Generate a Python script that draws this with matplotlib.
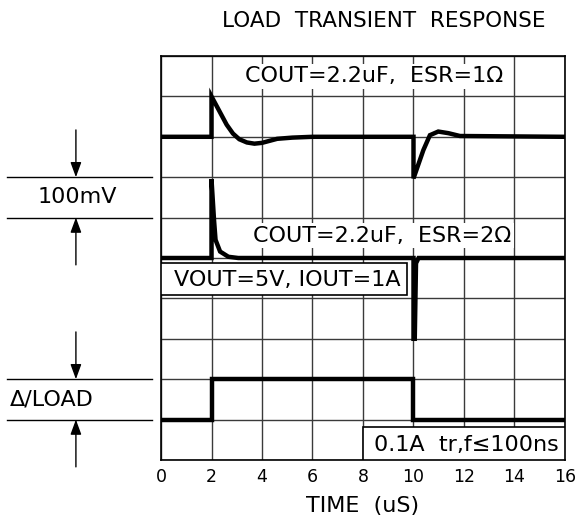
import numpy as np
import matplotlib
matplotlib.use('Agg')
import matplotlib.pyplot as plt
from matplotlib.patches import Rectangle

### data (time in uS, y in grid divisions)
esr1_t = [0, 2, 2, 2.3, 2.6, 2.85, 3.1, 3.4, 3.7, 4.0, 4.3, 4.6, 5.2, 6.0,
          10, 10, 10.39, 10.65, 10.98, 11.38, 11.84, 16]
esr1_v = [8, 8, 9, 8.65, 8.3, 8.08, 7.94, 7.86, 7.83, 7.85, 7.9, 7.95, 7.98, 8.0,
          8, 6.97, 7.67, 8.04, 8.13, 8.09, 8.02, 8]

esr2_t = [0, 2, 2, 2.10, 2.16, 2.34, 2.67, 3.06, 10, 10, 10.05, 10.1, 10.2, 16]
esr2_v = [5, 5, 6.95, 5.94, 5.45, 5.16, 5.03, 5.0, 5, 3.0, 3.0, 4.87, 5.0, 5]

load_t = [0, 2, 2, 10, 10, 16]
load_v = [1, 1, 2, 2, 1, 1]

xticks = [0, 2, 4, 6, 8, 10, 12, 14, 16]

plt.rcParams['font.family'] = ['DejaVu Sans', 'Liberation Sans']
fs = 16

### figure and axes
fig = plt.figure(figsize=(5.8, 5.25), dpi=100)
ax = fig.add_axes([161/580, 65/525, 404/580, 404/525])
ax.set_xlim(0, 16)
ax.set_ylim(0, 10)
ax.set_xticks(xticks)
ax.set_yticks(range(0, 11))
ax.set_yticklabels([])
ax.set_xticklabels([str(t) for t in xticks])
ax.tick_params(length=0, labelsize=12.5, pad=6)
ax.set_axisbelow(True)
ax.grid(True, color='#3a3a3a', lw=1.0)
for s in ax.spines.values():
    s.set_linewidth(1.2)
ax.set_xlabel('TIME  (uS)', fontsize=fs, labelpad=7)

### traces
for t, v in [(esr1_t, esr1_v), (esr2_t, esr2_v), (load_t, load_v)]:
    ax.plot(t, v, color='black', lw=3.2, solid_joinstyle='miter', zorder=4)

### labels inside the plot
wbox = dict(facecolor='white', edgecolor='none', pad=2)
ax.text(8.45, 9.5, 'COUT=2.2uF,  ESR=1\u03a9', fontsize=fs, ha='center', va='center',
        bbox=wbox, zorder=3)
ax.text(8.75, 5.55, 'COUT=2.2uF,  ESR=2\u03a9', fontsize=fs, ha='center', va='center',
        bbox=wbox, zorder=3)

# boxed notes
ax.add_patch(Rectangle((0, 4.08), 9.75, 0.8, facecolor='white', edgecolor='black',
                       lw=1.2, zorder=4.5))
ax.text(0.5, 4.46, 'VOUT=5V, IOUT=1A', fontsize=fs, ha='left', va='center', zorder=5)
ax.add_patch(Rectangle((8, 0), 8, 0.82, facecolor='white', edgecolor='black',
                       lw=1.2, zorder=4.5))
ax.text(12.1, 0.38, '0.1A  tr,f\u2264100ns', fontsize=fs, ha='center', va='center', zorder=5)

### scale markers left of the plot
def marker(y0, y1, label, xt, ha):
    for y in (y0, y1):
        ax.plot([-6.1, -0.35], [y, y], color='black', lw=1.0, clip_on=False)
    arr = dict(arrowstyle='-|>,head_length=0.6,head_width=0.22', color='black',
               lw=1.0, mutation_scale=15, shrinkA=0, shrinkB=0)
    ax.annotate('', xy=(-3.37, y1), xytext=(-3.37, y1 + 1.17), arrowprops=arr,
                annotation_clip=False)
    ax.annotate('', xy=(-3.37, y0), xytext=(-3.37, y0 - 1.17), arrowprops=arr,
                annotation_clip=False)
    ax.text(xt, (y0 + y1) / 2, label, fontsize=fs, ha=ha, va='center', clip_on=False)

marker(6.0, 7.0, '100mV', -3.3, 'center')
marker(1.0, 2.0, '\u0394/LOAD', -6.0, 'left')

### title
fig.text(384/580, 1 - 21/525, 'LOAD  TRANSIENT  RESPONSE', fontsize=15.5,
         ha='center', va='center')

fig.savefig('out.png', dpi=100)
